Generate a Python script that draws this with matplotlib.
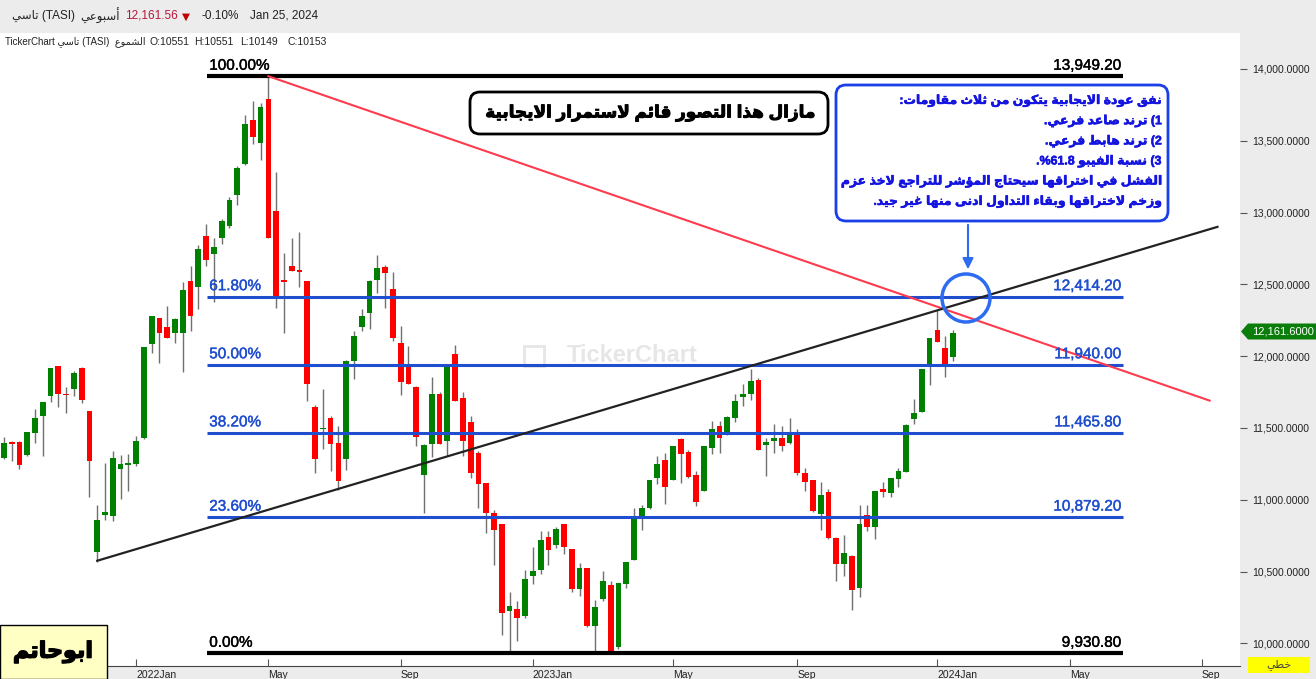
import matplotlib
matplotlib.use('Agg')
import matplotlib.pyplot as plt
import matplotlib.patheffects as pe
import numpy as np
from matplotlib.patches import Rectangle, FancyBboxPatch, Polygon, Circle, FancyArrowPatch
from matplotlib.transforms import IdentityTransform

plt.rcParams['font.family'] = ['Liberation Sans', 'DejaVu Sans']

# weekly TASI candles, oldest first (last one = week of Jan 25, 2024)
opens = [11291, 11403, 11403, 11314, 11468, 11580, 11719, 11934, 11738, 11768,
         11915, 11619, 10637, 10896, 10889, 11217, 11245, 11252, 11431, 12082,
         12262, 12206, 12159, 12164, 12520, 12478, 12834, 12711, 12823, 12904,
         13123, 13339, 13644, 13486, 13791, 13009, 12527, 12625, 12597, 12520,
         11647, 11489, 11571, 11396, 11280, 11964, 12201, 12299, 12529, 12618,
         12464, 12094, 11934, 11787, 11175, 11391, 11738, 11412, 12017, 11710,
         11543, 11326, 11117, 10907, 10831, 10226, 10237, 10191, 10470, 10512,
         10740, 10686, 10831, 10656, 10379, 10523, 10121, 10310, 10405, 9974,
         10414, 10581, 10889, 10944, 11154, 11277, 11140, 11424, 11333, 11173,
         11063, 11363, 11515, 11466, 11566, 11712, 11733, 11836, 11384, 11412,
         11431, 11398, 11466, 11187, 11138, 10903, 11054, 10735, 10553, 10607,
         10386, 10893, 10812, 11075, 11049, 11147, 11196, 11559, 11608, 11929,
         12185, 12059, 11992]
highs = [11438, 11412, 11412, 11473, 11633, 11682, 11920, 11934, 11787, 11899,
         11922, 11619, 10963, 11256, 11340, 11312, 11319, 11445, 12066, 12276,
         12262, 12346, 12262, 12513, 12625, 12773, 12918, 12820, 12953, 13106,
         13323, 13681, 13777, 13763, 13949, 13281, 12716, 12820, 12862, 12520,
         11661, 11768, 11585, 11510, 11976, 12178, 12325, 12527, 12702, 12632,
         12583, 12213, 12073, 11794, 11389, 11857, 11752, 11948, 12080, 11752,
         11585, 11340, 11117, 10928, 10831, 10358, 10295, 10510, 10670, 10782,
         10782, 10810, 10831, 10656, 10561, 10523, 10302, 10503, 10433, 10419,
         10565, 10942, 10963, 11138, 11305, 11326, 11375, 11431, 11347, 11201,
         11375, 11550, 11550, 11585, 11738, 11808, 11913, 11850, 11431, 11529,
         11515, 11571, 11494, 11222, 11138, 11124, 11075, 10742, 10754, 10614,
         10963, 10963, 11061, 11124, 11152, 11222, 11529, 11703, 11913, 12129,
         12318, 12143, 12185]
lows = [11284, 11273, 11215, 11305, 11396, 11307, 11682, 11647, 11606, 11724,
        11675, 11019, 10567, 10860, 10853, 11007, 11063, 11236, 11424, 12024,
        11955, 12124, 12089, 11892, 12173, 12327, 12627, 12378, 12780, 12892,
        13049, 13332, 13479, 13367, 12822, 12332, 12159, 12592, 12483, 11684,
        11189, 11356, 11203, 11070, 11210, 11838, 12173, 12187, 12438, 12334,
        12103, 11726, 11803, 11377, 10907, 11300, 11391, 11307, 11684, 11307,
        11154, 10944, 10770, 10547, 10058, 9931, 10016, 10177, 10414, 10484,
        10547, 10665, 10623, 10358, 10330, 10114, 9935, 10295, 9931, 9960,
        10386, 10581, 10791, 10937, 11112, 10972, 11140, 11119, 11154, 10958,
        11063, 11321, 11328, 11452, 11538, 11650, 11691, 11349, 11168, 11328,
        11342, 11391, 11175, 11063, 10914, 10791, 10728, 10435, 10470, 10232,
        10323, 10784, 10728, 11021, 11021, 11091, 11196, 11524, 11608, 11796,
        12096, 11852, 11964]
closes = [11396, 11389, 11245, 11473, 11571, 11682, 11920, 11733, 11727, 11885,
          11691, 11273, 10858, 10914, 11291, 11249, 11256, 11410, 12066, 12276,
          12159, 12124, 12255, 12462, 12276, 12743, 12669, 12757, 12939, 13085,
          13309, 13616, 13527, 13735, 12822, 12408, 12516, 12592, 12585, 11803,
          11280, 11501, 11391, 11133, 11969, 12143, 12276, 12520, 12611, 12578,
          12124, 11817, 11803, 11436, 11382, 11738, 11391, 11948, 11684, 11412,
          11189, 11112, 10910, 10791, 10211, 10258, 10177, 10447, 10503, 10719,
          10651, 10796, 10672, 10379, 10523, 10121, 10254, 10433, 9945, 10419,
          10565, 10879, 10942, 11138, 11249, 11091, 11375, 11321, 11161, 10986,
          11375, 11494, 11433, 11578, 11689, 11738, 11829, 11349, 11403, 11431,
          11377, 11473, 11189, 11126, 10921, 11033, 10735, 10553, 10628, 10372,
          10831, 10812, 11061, 11056, 11152, 11201, 11522, 11606, 11913, 12129,
          12096, 11936, 12161.56]

# first candle of each labelled month
month_labels = ['2022Jan', 'May', 'Sep', '2023Jan', 'May', 'Sep', '2024Jan', 'May', 'Sep']
month_idx = [17, 34, 51, 68, 86, 102, 120, 137, 154]

fib_pcts = ['100.00%', '61.80%', '50.00%', '38.20%', '23.60%', '0.00%']
fib_vals = [13949.20, 12414.20, 11940.00, 11465.80, 10879.20, 9930.80]

red_trend = [(34, 13949.2), (155, 11690)]
black_trend = [(12, 10575), (156, 12900)]

last_price = 12161.56

# --- minimal arabic shaping (presentation forms), output in visual order ---
JOIN = {'ء': (0xFE80, 1), 'آ': (0xFE81, 2), 'أ': (0xFE83, 2), 'ؤ': (0xFE85, 2), 'إ': (0xFE87, 2),
        'ئ': (0xFE89, 4), 'ا': (0xFE8D, 2), 'ب': (0xFE8F, 4), 'ة': (0xFE93, 2), 'ت': (0xFE95, 4),
        'ث': (0xFE99, 4), 'ج': (0xFE9D, 4), 'ح': (0xFEA1, 4), 'خ': (0xFEA5, 4), 'د': (0xFEA9, 2),
        'ذ': (0xFEAB, 2), 'ر': (0xFEAD, 2), 'ز': (0xFEAF, 2), 'س': (0xFEB1, 4), 'ش': (0xFEB5, 4),
        'ص': (0xFEB9, 4), 'ض': (0xFEBD, 4), 'ط': (0xFEC1, 4), 'ظ': (0xFEC5, 4), 'ع': (0xFEC9, 4),
        'غ': (0xFECD, 4), 'ف': (0xFED1, 4), 'ق': (0xFED5, 4), 'ك': (0xFED9, 4), 'ل': (0xFEDD, 4),
        'م': (0xFEE1, 4), 'ن': (0xFEE5, 4), 'ه': (0xFEE9, 4), 'و': (0xFEED, 2), 'ى': (0xFEEF, 2),
        'ي': (0xFEF1, 4)}
LAM_ALEF = {'ا': 0xFEFB, 'أ': 0xFEF7, 'إ': 0xFEF9, 'آ': 0xFEF5}


def ar(text):
    out = []
    i = 0
    n = len(text)
    while i < n:
        ch = text[i]
        if ch not in JOIN:
            out.append(ch)
            i += 1
            continue
        prev = text[i - 1] if i > 0 else ''
        joins_prev = prev in JOIN and JOIN[prev][1] == 4
        base, kind = JOIN[ch]
        if ch == 'ل' and i + 1 < n and text[i + 1] in LAM_ALEF:
            out.append(chr(LAM_ALEF[text[i + 1]] + (1 if joins_prev else 0)))
            i += 2
            continue
        nxt = text[i + 1] if i + 1 < n else ''
        joins_next = kind == 4 and nxt in JOIN and JOIN[nxt][1] > 1
        if joins_prev and kind > 1:
            form = 3 if joins_next else 1
        else:
            form = 2 if joins_next else 0
        out.append(chr(base + form))
        i += 1
    return ''.join(reversed(out))


def fake_bold(color, w=0.6):
    return [pe.withStroke(linewidth=w, foreground=color)]


W, H = 1316, 679
fig = plt.figure(figsize=(W / 100, H / 100), dpi=100, facecolor='#ececec')
ax = fig.add_axes([0, 13 / H, 1240 / W, 633 / H])
ax.set_facecolor('white')
ident = IdentityTransform()


def fxy(x, y):
    return x / W, 1 - y / H


# candles
x = np.arange(len(closes))
o = np.array(opens, float)
c = np.array(closes, float)
up = c >= o
ax.vlines(x, lows, highs, color='#707070', lw=1, zorder=2)
bottoms = np.minimum(o, c)
heights = np.maximum(np.abs(c - o), 12)
ax.bar(x[up], heights[up], bottom=bottoms[up], width=0.74, color='#008000', zorder=3)
ax.bar(x[~up], heights[~up], bottom=bottoms[~up], width=0.74, color='#ff0000', zorder=3)

# fibonacci levels
for pct, val in zip(fib_pcts, fib_vals):
    edge = pct in ('100.00%', '0.00%')
    col = 'black' if edge else '#1f4ecf'
    ax.hlines(val, 26.1, 143.8, color=col, lw=3 if edge else 2.2, zorder=4)
    ax.annotate(pct, (26.4, val), xytext=(0, 2.5), textcoords='offset points',
                ha='left', va='bottom', fontsize=11, color=col, zorder=5,
                path_effects=fake_bold(col, 0.3))
    ax.annotate(f'{val:,.2f}', (143.6, val), xytext=(0, 2.5), textcoords='offset points',
                ha='right', va='bottom', fontsize=11, color=col, zorder=5,
                path_effects=fake_bold(col, 0.3))

# trend lines
ax.plot(*zip(*red_trend), color='#ff3b4e', lw=1.5, zorder=4)
ax.plot(*zip(*black_trend), color='#222222', lw=1.6, zorder=4)

# watermark
ax.text(632, H - 356, 'TickerChart', transform=ident, ha='center', va='center',
        fontsize=17, fontweight='bold', color='#e6e6e6', zorder=0.5)
ax.add_patch(Rectangle((524, H - 366), 20, 20, transform=ident, fill=False,
                       ec='#e6e6e6', lw=2, zorder=0.5))

ax.set_xlim(-0.5, 158.9)
ax.set_ylim(9842, 14250)
ax.set_xticks(month_idx)
ax.set_xticklabels(month_labels)
for lbl in ax.get_xticklabels():
    lbl.set_ha('left')
ax.tick_params(axis='x', direction='in', length=5, pad=3, labelsize=7.5,
               color='#555555', labelcolor='#222222')
ax.yaxis.tick_right()
ax.set_yticks(np.arange(10000, 14001, 500))
ax.set_yticklabels([f'{v:,.4f}' for v in np.arange(10000, 14001, 500)])
ax.tick_params(axis='y', direction='out', length=5, pad=4, labelsize=7.5,
               color='#555555', labelcolor='#222222')
for s in ['top', 'left', 'right']:
    ax.spines[s].set_visible(False)
ax.spines['bottom'].set_color('#444444')

# header bar
fig.text(*fxy(12, 16), ar('تاسي') + ' (TASI)', fontsize=8.5, va='center', color='#222222')
fig.text(*fxy(80, 16), ar('أسبوعي'), fontsize=8.5, va='center', color='#222222')
fig.text(*fxy(125, 16), f'{last_price:,.2f}', fontsize=8.5, va='center', color='#b5173d')
fig.text(*fxy(182, 17), '▼', fontsize=7.5, va='center', color='#c00000', family='DejaVu Sans')
fig.text(*fxy(202, 16), '-0.10%', fontsize=8.5, va='center', color='#222222')
fig.text(*fxy(250, 16), 'Jan 25, 2024', fontsize=8.5, va='center', color='#222222')

# ohlc line
fig.text(*fxy(5, 42), 'TickerChart ' + ar('تاسي') + ' (TASI)  ' + ar('الشموع'),
         fontsize=7, va='center', color='#222222')
for px_, s in [(149, 'O:10551'), (194, 'H:10551'), (240, 'L:10149'), (288, 'C:10153')]:
    fig.text(*fxy(px_, 42), s, fontsize=7.5, va='center', color='#222222')

# title box
fig.add_artist(FancyBboxPatch((470, H - 134), 358, 42, boxstyle='round,pad=0,rounding_size=10',
                              transform=ident, fc='white', ec='black', lw=2))
title = fig.text(*fxy(651, 113), ar('مازال هذا التصور قائم لاستمرار الايجابية'),
                 ha='center', va='center', fontsize=12, fontweight='bold', color='black',
                 path_effects=fake_bold('black', 0.7))

# info box
fig.add_artist(FancyBboxPatch((836, H - 221), 332, 136, boxstyle='round,pad=0,rounding_size=10',
                              transform=ident, fc='white', ec='#1a3fe6', lw=2))
info_lines = [
    ar('نفق عودة الايجابية يتكون من ثلاث مقاومات:'),
    ar('ترند صاعد فرعي.') + ' (1',
    ar('ترند هابط فرعي.') + ' (2',
    '.%61.8 ' + ar('نسبة الفيبو') + ' (3',
    ar('الفشل في اختراقها سيحتاج المؤشر للتراجع لاخذ عزم'),
    ar('وزخم لاختراقها وبقاء التداول ادنى منها غير جيد.'),
]
info_texts = []
for k, line in enumerate(info_lines):
    info_texts.append(fig.text(*fxy(1162, 101 + k * 20.2), line, ha='right', va='center',
                               fontsize=10, fontweight='bold', color='#1414e0',
                               path_effects=fake_bold('#1414e0', 0.4)))

# fit the arabic text blocks to the width they take in the box
fig.canvas.draw()
rend = fig.canvas.get_renderer()
w5 = info_texts[4].get_window_extent(rend).width
for t in info_texts:
    t.set_fontsize(10 * 322 / w5)
wt = title.get_window_extent(rend).width
title.set_fontsize(12 * 330 / wt)

# circle + arrow
fig.add_artist(Circle((966, H - 298), 24, transform=ident, fill=False, ec='#2d6cf0', lw=2.5))
fig.add_artist(FancyArrowPatch((968, H - 222), (968, H - 272), transform=ident,
                               arrowstyle='-|>', mutation_scale=16, color='#2d6cf0', lw=1.5))

# price tag
fig.add_artist(Polygon([(1241, H - 331.5), (1248, H - 323.5), (1316, H - 323.5),
                        (1316, H - 339.5), (1248, H - 339.5)], closed=True,
                       transform=ident, fc='#0b7d0b', ec='none'))
fig.text(*fxy(1283, 331.5), f'{round(last_price, 1):,.4f}',
         ha='center', va='center', fontsize=8, color='white')

# author box + chart type box
fig.add_artist(Rectangle((0, 0), 107, 54, transform=ident, fc='#ffffc4', ec='black', lw=1))
fig.text(*fxy(53, 652), ar('ابوحاتم'), ha='center', va='center', fontsize=16,
         fontweight='bold', color='black', path_effects=fake_bold('black', 1.0))
fig.add_artist(Rectangle((1248, H - 673), 62, 16, transform=ident, fc='#ffff00', ec='none'))
fig.text(*fxy(1279, 665), ar('خطي'), ha='center', va='center', fontsize=8, color='#444444')

fig.savefig('out.png', dpi=100)
